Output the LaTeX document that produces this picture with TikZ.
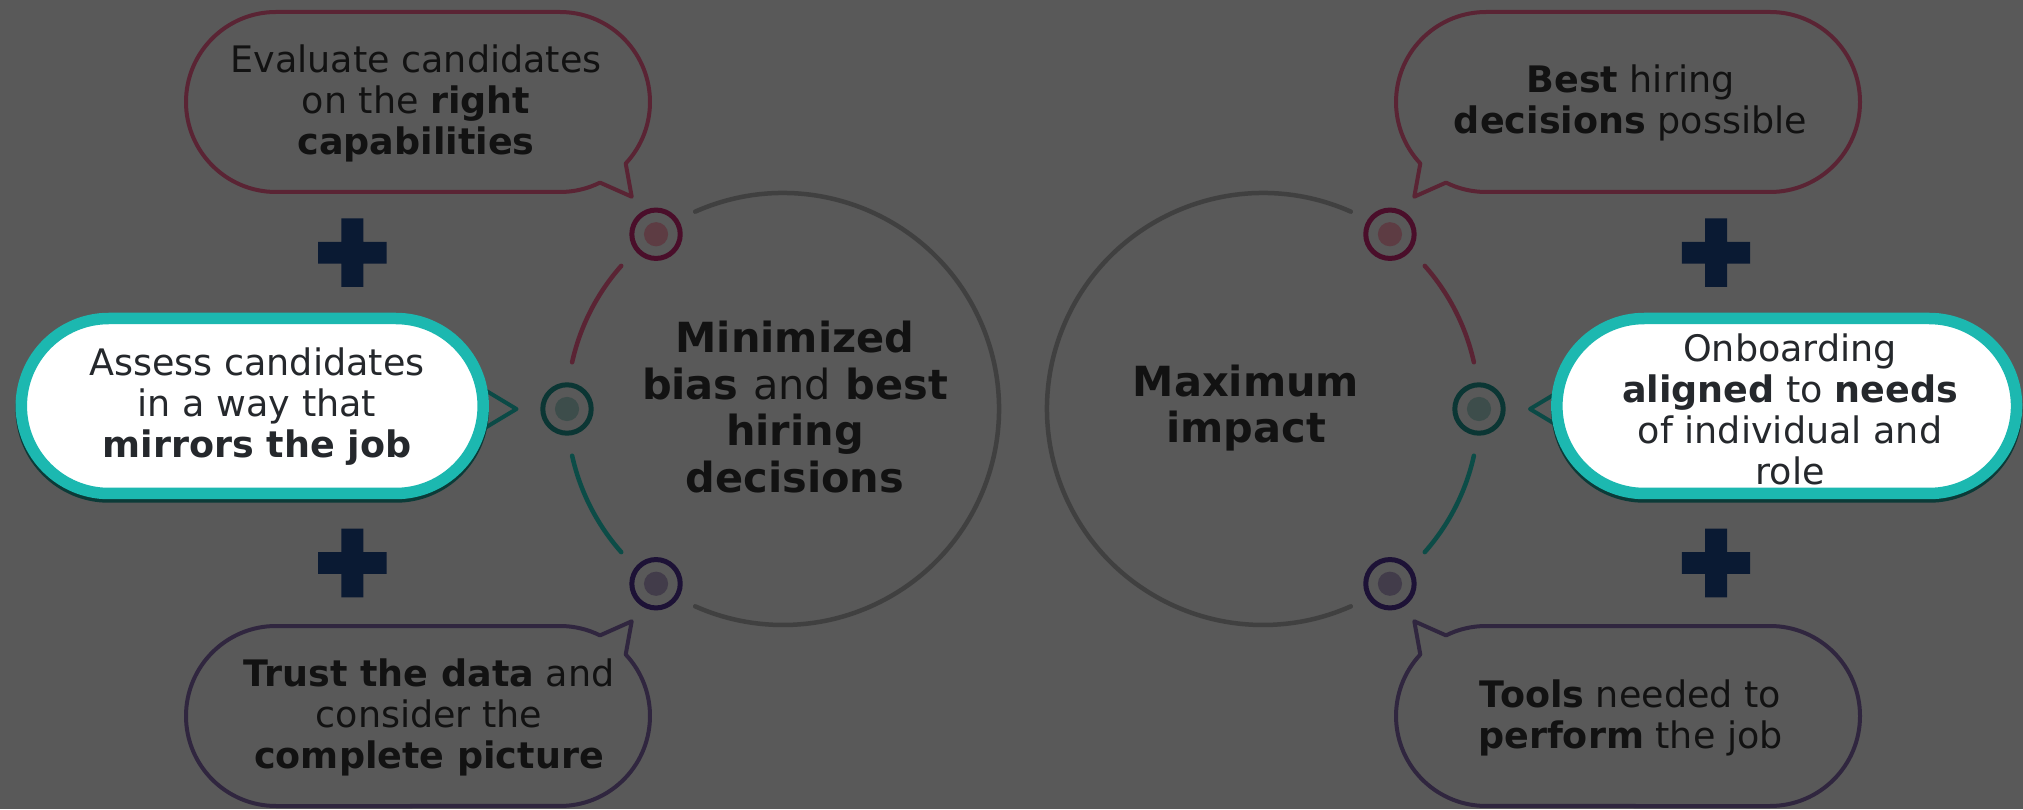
\documentclass[tikz,border=0pt]{standalone}
\usepackage{fontspec}
\setmainfont{DejaVu Sans}
\usepackage{xcolor}
\usepackage{tikz}
\definecolor{fondo}{HTML}{595959}
\definecolor{tinta}{HTML}{121212}
\definecolor{tintaclara}{HTML}{25282C}
\definecolor{gris}{HTML}{404040}
\definecolor{granate}{HTML}{5A2434}
\definecolor{morado}{HTML}{30263F}
\definecolor{verde}{HTML}{0C4C47}
\definecolor{anG}{HTML}{4A0E2A}
\definecolor{anV}{HTML}{0B3634}
\definecolor{anM}{HTML}{1D1236}
\definecolor{ptG}{HTML}{5D3C43}
\definecolor{ptV}{HTML}{3D4D4B}
\definecolor{ptM}{HTML}{423C4A}
\definecolor{turquesa}{HTML}{1CB8B0}
\definecolor{sombra}{HTML}{0B3B38}
\definecolor{cola}{HTML}{0B4A46}
\definecolor{cruzazul}{HTML}{0A1A33}
\def\Rbig{216}
\def\Rring{24.2}
\def\Rglobo{87.5}
\pgfmathsetmacro{\Rdot}{\Rring/2}

\begin{document}
\begin{tikzpicture}[x=1pt, y=1pt, line cap=round, line join=round,
    texto/.style={align=center, text=tinta, font=\fontsize{36.5}{41}\selectfont},
    titulo/.style={align=center, text=tinta, font=\fontsize{41.5}{46.5}\selectfont\bfseries},
    globo/.style={line width=4pt},
    arco/.style={line width=4.5pt},
    anillo/.style={line width=5pt}]
    % Fondo
    \fill[fondo] (0,0) rectangle (2023,809);
    \useasboundingbox (0,0) rectangle (2023,809);

    % Coordenadas clave
    \coordinate (C1) at (783,400);
    \coordinate (C2) at (1263,400);
    \path (C1) ++(126:\Rbig) coordinate (A1) (C1) ++(180:\Rbig) coordinate (B1)
          (C1) ++(234:\Rbig) coordinate (D1);
    \path (C2) ++(54:\Rbig) coordinate (A2) (C2) ++(0:\Rbig) coordinate (B2)
          (C2) ++(-54:\Rbig) coordinate (D2);

    % Circulos grandes (gris) y tramos de color
    \draw[arco, gris] (C1) ++(114:\Rbig) arc[start angle=114, end angle=-114, radius=\Rbig];
    \draw[arco, gris] (C2) ++(66:\Rbig) arc[start angle=66, end angle=294, radius=\Rbig];
    \draw[arco, granate] (C1) ++(138.5:\Rbig) arc[start angle=138.5, end angle=167.5, radius=\Rbig];
    \draw[arco, verde] (C1) ++(192.5:\Rbig) arc[start angle=192.5, end angle=221.5, radius=\Rbig];
    \draw[arco, granate] (C2) ++(41.5:\Rbig) arc[start angle=41.5, end angle=12.5, radius=\Rbig];
    \draw[arco, verde] (C2) ++(-12.5:\Rbig) arc[start angle=-12.5, end angle=-41.5, radius=\Rbig];

    % Anillos
    \foreach \p/\ca/\cp in {A1/anG/ptG, B1/anV/ptV, D1/anM/ptM, A2/anG/ptG, B2/anV/ptV, D2/anM/ptM} {
      \fill[\cp] (\p) circle[radius=\Rdot];
      \draw[anillo, \ca] (\p) circle[radius=\Rring];
    }

    % Globos con cola
    \foreach \cx/\cy/\sx/\sy/\c in {418/707/1/1/granate, 418/93/1/-1/morado,
                                   1628/707/-1/1/granate, 1628/93/-1/-1/morado} {
      \begin{scope}[shift={(\cx,\cy)}, xscale=\sx, yscale=\sy]
        \draw[globo, \c] (213.7,-94.7) -- (207.7,-61.5)
          arc[start angle=-43.1, end angle=90, radius=90] -- (-142,90)
          arc[start angle=90, end angle=270, radius=90] -- (142,-90)
          arc[start angle=-90, end angle=-63.6, radius=90] -- cycle;
      \end{scope}
    }

    % Globos blancos
    \foreach \cx/\sx/\hw/\tx in {252.25/1/230.95/264.25, 1786.7/-1/229.85/256.7} {
      \begin{scope}[shift={(\cx,403)}, xscale=\sx]
        \draw[line width=4pt, cola] (\tx-46.7,25) -- (\tx,-3) -- (\tx-46.7,-31);
        \draw[line width=11.5pt, sombra, fill=sombra, rounded corners=\Rglobo pt]
          (-\hw,-\Rglobo-3.5) rectangle (\hw,\Rglobo-3.5);
        \draw[line width=11.5pt, turquesa, fill=white, rounded corners=\Rglobo pt]
          (-\hw,-\Rglobo) rectangle (\hw,\Rglobo);
      \end{scope}
    }

    % Cruces
    \foreach \px/\py in {352.3/556.3, 352.3/246, 1716/556.3, 1716/246}
      \fill[cruzazul, shift={(\px,\py)}] (-11,-34.3) rectangle (11,34.3)
        (-34.2,-10.9) rectangle (34.2,10.9);

    % Textos
    \node[texto] (evaluar) at (416,706) {Evaluate candidates\\on the \textbf{right}\\\textbf{capabilities}};
    \node[texto] (confiar) at (429,92) {\textbf{Trust the data} and\\consider the\\\textbf{complete picture}};
    \node[texto] (decidir) at (1630.5,706) {\textbf{Best} hiring\\\textbf{decisions} possible};
    \node[texto] (herramientas) at (1630.5,91) {\textbf{Tools} needed to\\\textbf{perform} the job};
    \node[texto, text=tintaclara] (evaluar) at (257,402) {Assess candidates\\in a way that\\\textbf{mirrors the job}};
    \node[texto, text=tintaclara] (integrar) at (1790,400) {Onboarding\\\textbf{aligned} to \textbf{needs}\\of individual and\\role};
    \node[titulo] (sesgo) at (795,402) {Minimized\\bias {\mdseries and} best\\hiring\\decisions};
    \node[titulo] (impacto) at (1246,401) {Maximum\\impact};
\end{tikzpicture}
\end{document}
